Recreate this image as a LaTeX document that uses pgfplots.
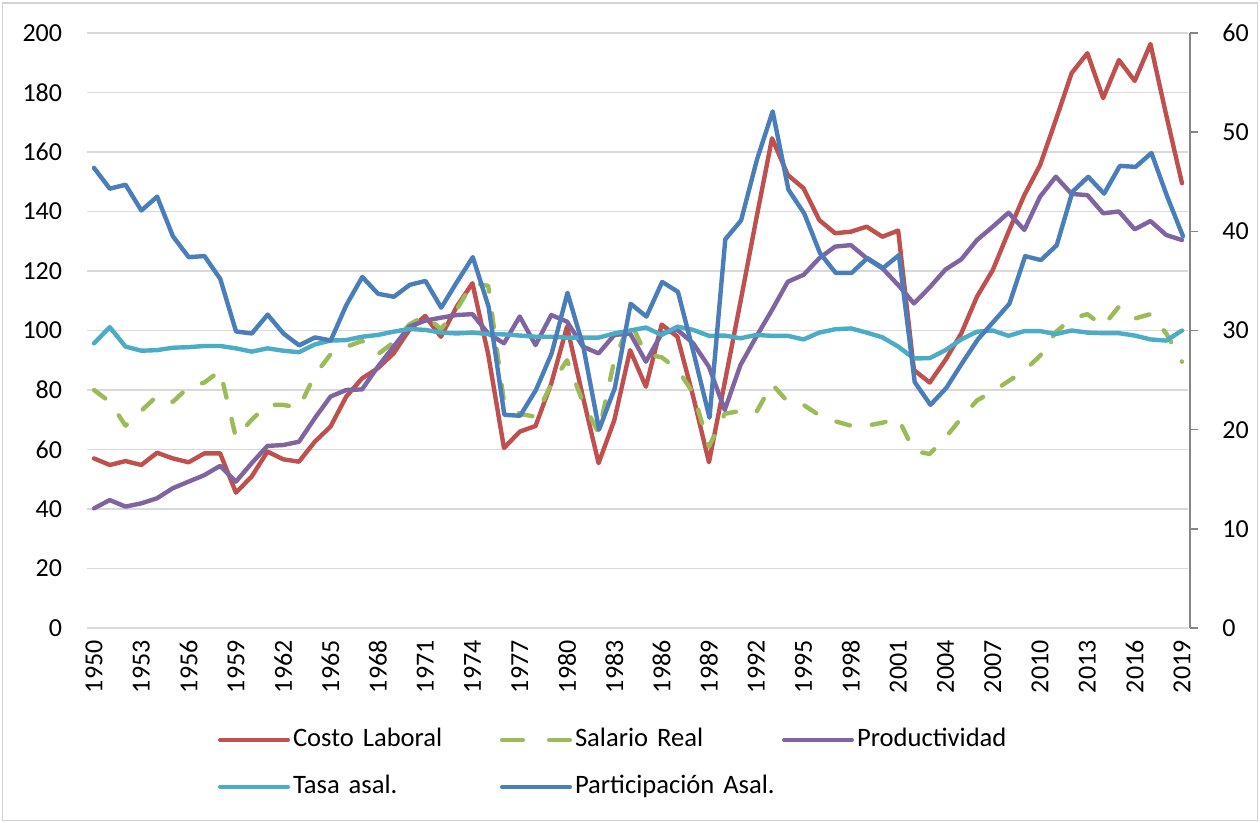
\documentclass[border=0pt]{standalone}
\usepackage{fontspec}
\setmainfont{Carlito}
\usepackage{pgfplots}
\pgfplotsset{compat=1.18}
\usepackage{pgfplotstable}

\definecolor{cred}{HTML}{C0504D}
\definecolor{cgreen}{HTML}{9BBB59}
\definecolor{cpurple}{HTML}{8064A2}
\definecolor{ccyan}{HTML}{4BACC6}
\definecolor{cblue}{HTML}{4A7EBB}
\definecolor{gridgray}{HTML}{D9D9D9}
\definecolor{axisgray}{HTML}{868686}

% year, Costo Laboral, Salario Real, Productividad, Tasa asal.
\pgfplotstableread{
year cl sr pr ta
1950 57.0 80.0 40.2 95.7
1951 54.8 76.0 43.0 101.1
1952 56.1 68.0 40.8 94.6
1953 54.8 73.0 41.9 93.2
1954 58.9 78.0 43.6 93.4
1955 57.0 76.0 47.0 94.2
1956 55.7 81.0 49.2 94.4
1957 58.7 82.5 51.4 94.8
1958 58.7 86.5 54.5 94.8
1959 45.5 64.0 49.2 94.0
1960 50.9 70.0 55.4 92.9
1961 59.3 75.0 61.2 94.0
1962 56.7 75.0 61.5 93.2
1963 55.9 74.0 62.6 92.7
1964 62.6 85.0 70.5 95.3
1965 67.7 92.0 77.8 96.6
1966 77.8 94.5 80.0 96.8
1967 83.9 96.5 80.2 97.9
1968 87.3 92.0 87.8 98.5
1969 92.3 96.0 94.6 99.6
1970 100.2 102.0 101.3 100.5
1971 104.9 105.0 103.3 100.2
1972 97.9 100.5 104.3 99.3
1973 108.0 107.0 105.2 99.0
1974 115.9 116.0 105.5 99.3
1975 92.0 115.0 99.0 98.8
1976 60.5 76.0 95.7 98.7
1977 66.0 72.0 104.7 98.3
1978 67.9 71.0 95.1 97.9
1979 82.2 82.0 105.2 97.9
1980 101.3 90.0 103.0 97.6
1981 77.8 76.0 94.6 97.6
1982 55.4 65.5 92.3 97.6
1983 69.9 90.0 98.5 99.0
1984 93.4 103.0 99.0 100.0
1985 81.1 92.0 89.5 101.0
1986 102.0 91.0 99.0 98.5
1987 97.9 87.0 100.2 101.3
1988 77.8 79.0 95.7 100.2
1989 55.7 61.0 87.8 98.2
1990 82.5 72.0 73.3 98.3
1991 109.7 73.0 88.4 97.4
1992 137.5 72.5 97.9 98.5
1993 164.6 82.0 106.9 98.2
1994 152.3 76.0 116.4 98.2
1995 147.8 75.0 118.7 97.0
1996 137.1 71.5 124.3 99.3
1997 132.7 69.5 128.2 100.4
1998 133.2 68.0 128.7 100.7
1999 134.9 68.0 124.3 99.3
2000 131.5 69.0 120.9 97.7
2001 133.6 70.5 115.3 94.6
2002 86.7 59.5 109.1 90.6
2003 82.5 58.5 114.5 90.7
2004 90.1 64.0 120.5 93.4
2005 99.0 70.5 123.9 97.0
2006 111.4 76.5 130.4 99.6
2007 120.3 79.5 134.9 100.0
2008 133.2 83.0 139.6 98.2
2009 145.5 86.5 133.8 99.8
2010 155.6 91.5 145.0 99.8
2011 170.8 99.5 151.7 98.8
2012 186.5 104.0 145.9 100.0
2013 193.2 105.5 145.5 99.3
2014 178.1 101.5 139.4 99.1
2015 190.9 108.0 140.0 99.1
2016 183.9 104.0 134.0 98.3
2017 196.3 105.5 136.8 97.0
2018 172.4 99.0 132.1 96.6
2019 149.5 89.5 130.4 100.0
}\datatab

% Participacion Asal. (right axis)
\pgfplotstableread{
year pa
1950 46.4
1951 44.3
1952 44.7
1953 42.1
1954 43.5
1955 39.5
1956 37.4
1957 37.5
1958 35.2
1959 29.9
1960 29.7
1961 31.6
1962 29.7
1963 28.5
1964 29.3
1965 29.0
1966 32.6
1967 35.4
1968 33.7
1969 33.4
1970 34.6
1971 35.0
1972 32.3
1973 34.9
1974 37.4
1975 32.4
1976 21.5
1977 21.4
1978 24.0
1979 27.7
1980 33.8
1981 28.4
1982 20.0
1983 24.2
1984 32.7
1985 31.4
1986 34.9
1987 33.9
1988 27.7
1989 21.2
1990 39.2
1991 41.1
1992 47.2
1993 52.1
1994 44.2
1995 41.8
1996 37.8
1997 35.8
1998 35.8
1999 37.3
2000 36.3
2001 37.6
2002 24.8
2003 22.5
2004 24.2
2005 26.7
2006 29.1
2007 30.9
2008 32.7
2009 37.5
2010 37.1
2011 38.6
2012 44.0
2013 45.5
2014 43.8
2015 46.6
2016 46.5
2017 47.9
2018 43.5
2019 39.5
}\blutab

\pgfplotsset{
  myline/.style={line width=2.2pt, line join=round, line cap=round},
  tick label style={font=\fontsize{13}{15.5}\selectfont},
  linelegend/.style={legend image code/.code={\draw[##1] (1.1pt,0pt) -- (34.9pt,0pt);}},
  dashlegend/.style={legend image code/.code={\draw[##1,solid] (1.1pt,0pt) -- (11.4pt,0pt) (24.6pt,0pt) -- (34.9pt,0pt);}},
}

\begin{document}
\begin{tikzpicture}
\path[use as bounding box] (-43.5pt,-97.5pt) rectangle (586.5pt,314pt);
\draw[gray!35, line width=0.8pt] (-42.3pt,-96.3pt) rectangle (585.3pt,312.6pt);

\begin{axis}[
  scale only axis, width=550.5pt, height=297.5pt,
  xmin=1949.556, xmax=2019.38, ymin=0, ymax=200,
  axis line style={draw=none},
  tick style={draw=none},
  xtick={1950,1953,...,2019},
  ytick={0,20,...,200},
  ymajorgrids,
  grid style={color=gridgray, line width=0.75pt},
  /pgf/number format/1000 sep={},
  /pgf/number format/assume math mode=true,
  xticklabel style={anchor=east, rotate=90, inner xsep=6pt, inner ysep=0pt},
  yticklabel style={anchor=east, inner xsep=0pt, xshift=-12.25pt},
  legend cell align=left,
  legend columns=3,
  linelegend,
  legend style={draw=none, fill=none, at={(0.119,-0.1672)}, anchor=north west,
    inner sep=0pt, outer sep=0pt, row sep=11pt,
    nodes={inner xsep=1.5pt, inner ysep=0pt, text height=9.5pt, text depth=3pt,
      text width=100pt, align=left, font=\fontsize{13.3}{16}\selectfont},
    /tikz/every even column/.append style={column sep=2pt}},
]
\addplot[myline, cred] table[x=year, y=cl] {\datatab};
\addlegendentry{Costo Laboral}
\addplot[myline, cgreen, dash pattern=on 7pt off 11pt, dashlegend]
  table[x=year, y=sr] {\datatab};
\addlegendentry{Salario Real}
\addplot[myline, cpurple] table[x=year, y=pr] {\datatab};
\addlegendentry{Productividad}
\addplot[myline, ccyan] table[x=year, y=ta] {\datatab};
\addlegendentry{Tasa asal.}
\addlegendimage{myline, cblue}
\addlegendentry{Participación Asal.}
\end{axis}

\begin{axis}[
  scale only axis, width=551.5pt, height=297.5pt,
  xmin=1949.556, xmax=2019.443, ymin=0, ymax=60,
  axis x line=none,
  axis y line*=right,
  y axis line style={color=axisgray, line width=0.75pt, -},
  ytick={0,10,...,60},
  ytick style={color=axisgray, line width=0.75pt},
  tick align=outside,
  major tick length=4pt,
  /pgf/number format/assume math mode=true,
  yticklabel={\hspace*{8.7pt}\pgfmathprintnumber{\tick}},
]
\addplot[myline, cblue] table[x=year, y=pa] {\blutab};
\end{axis}
\end{tikzpicture}
\end{document}
